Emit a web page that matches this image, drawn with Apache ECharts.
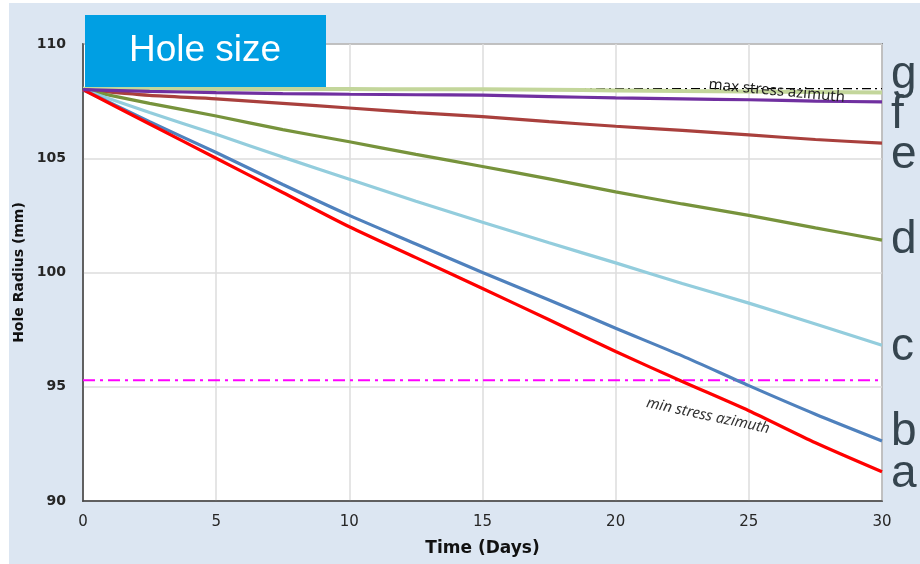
<!DOCTYPE html>
<html>
<head>
<meta charset="utf-8">
<script src="https://cdn.jsdelivr.net/npm/echarts@6/dist/echarts.min.js"></script>
<style>
html,body{margin:0;padding:0;background:#fff;}
#c{width:920px;height:564px;}
</style>
</head>
<body>
<div id="c"></div>
<script>
const days = [0, 2.5, 5, 7.5, 10, 12.5, 15, 17.5, 20, 22.5, 25, 27.5, 30];
const seriesNames = ['a', 'b', 'c', 'd', 'e', 'f', 'g'];
const aVals = [108, 106.5, 105.0, 103.5, 102.0, 100.65, 99.3, 97.93, 96.54, 95.23, 93.95, 92.55, 91.28];
const bVals = [108, 106.6, 105.25, 103.85, 102.5, 101.25, 100.0, 98.8, 97.56, 96.35, 95.05, 93.8, 92.63];
const cVals = [108, 107.0, 106.05, 105.05, 104.08, 103.12, 102.2, 101.3, 100.42, 99.52, 98.66, 97.75, 96.82];
const dVals = [108, 107.4, 106.85, 106.25, 105.72, 105.17, 104.64, 104.1, 103.53, 103.0, 102.5, 101.95, 101.42];
const eVals = [108, 107.75, 107.6, 107.4, 107.2, 107.0, 106.82, 106.6, 106.4, 106.22, 106.02, 105.82, 105.66];
const fVals = [108, 107.93, 107.87, 107.83, 107.8, 107.78, 107.76, 107.7, 107.64, 107.6, 107.56, 107.5, 107.47];
const gVals = [108.04, 108.04, 108.03, 108.03, 108.03, 108.02, 108.02, 108.0, 107.97, 107.94, 107.92, 107.9, 107.88];
const minStressLevel = 95.28;
const maxStressLevel = 108.05;
const yTicks = [90, 95, 100, 105, 110];
const xTicks = [0, 5, 10, 15, 20, 25, 30];

const colors = ['#ff0000', '#4f81bd', '#93cddd', '#77933c', '#a9403d', '#7030a0', '#c3d69b'];
const labelOffsets = [[0, 3], [0, -9], [0, 2], [0, 0], [0, 12], [0, 14], [0, -17]];
const allVals = [aVals, bVals, cVals, dVals, eVals, fVals, gVals];

const chart = echarts.init(document.getElementById('c'));

const series = [];
series.push({
  type: 'line', name: 'max', data: [[xTicks[0], maxStressLevel], [xTicks[xTicks.length - 1], maxStressLevel]],
  symbol: 'none', silent: true, z: 1,
  lineStyle: { color: '#000', width: 1.2, type: [9, 4, 2, 4] }
});
series.push({
  type: 'line', name: 'min', data: [[xTicks[0], minStressLevel], [xTicks[xTicks.length - 1], minStressLevel]],
  symbol: 'none', silent: true, z: 1,
  lineStyle: { color: '#ff00ff', width: 2, type: [12, 5, 3, 5] }
});
const drawOrder = [6, 4, 3, 2, 1, 0, 5];
drawOrder.forEach(function (i) {
  series.push({
    type: 'line',
    name: seriesNames[i],
    data: days.map(function (d, k) { return [d, allVals[i][k]]; }),
    symbol: 'none',
    smooth: 0.25,
    z: 3,
    lineStyle: { color: colors[i], width: i === 6 ? 4 : 3.2 },
    endLabel: {
      show: true,
      formatter: '{a}',
      fontFamily: 'Liberation Sans, Arial, sans-serif',
      fontSize: 46,
      color: '#36454f',
      distance: 9,
      offset: labelOffsets[i]
    }
  });
});

chart.setOption({
  animation: false,
  backgroundColor: 'transparent',
  grid: {
    left: 83, right: 38, top: 44, bottom: 63,
    show: true, backgroundColor: '#ffffff', borderColor: '#404040', borderWidth: 1.5
  },
  xAxis: {
    type: 'value', min: 0, max: 30, interval: 5,
    name: 'Time (Days)', nameLocation: 'middle', nameGap: 39,
    nameTextStyle: { fontFamily: 'DejaVu Sans, sans-serif', fontWeight: 'bold', fontSize: 17, color: '#111' },
    axisLine: { lineStyle: { color: '#404040', width: 1.5 } },
    axisTick: { show: false },
    axisLabel: { fontFamily: 'DejaVu Sans, sans-serif', fontSize: 15, color: '#262626', margin: 14 },
    splitLine: { lineStyle: { color: '#dcdcdc', width: 1.5 } }
  },
  yAxis: {
    type: 'value', min: 90, max: 110, interval: 5,
    name: 'Hole Radius (mm)', nameLocation: 'middle', nameGap: 56,
    nameTextStyle: { fontFamily: 'DejaVu Sans, sans-serif', fontWeight: 'bold', fontSize: 14, color: '#111' },
    axisLine: { show: true, lineStyle: { color: '#404040', width: 1.5 } },
    axisTick: { show: false },
    axisLabel: { fontFamily: 'DejaVu Sans, sans-serif', fontWeight: 'bold', fontSize: 14, color: '#262626', margin: 17 },
    splitLine: { lineStyle: { color: '#dcdcdc', width: 1.5 } }
  },
  series: series
});

const pMin = chart.convertToPixel({ gridIndex: 0 }, [23.47, 93.72]);
const pMax = chart.convertToPixel({ gridIndex: 0 }, [26.05, 107.94]);

chart.setOption({
  graphic: [
    { type: 'rect', z: -100, silent: true, shape: { x: 9, y: 3, width: 911, height: 561 }, style: { fill: '#dce6f2' } },
    { type: 'rect', z: 100, silent: true, shape: { x: 85, y: 15, width: 241, height: 72 }, style: { fill: '#009fe3' } },
    { type: 'text', z: 101, silent: true, x: 205, y: 51,
      style: { text: 'Hole size', fill: '#ffffff', font: '37px "Liberation Sans", Arial, sans-serif', align: 'center', verticalAlign: 'middle' } },
    { type: 'text', z: 101, silent: true, x: pMin[0], y: pMin[1], rotation: -0.21,
      style: { text: 'min stress azimuth', fill: '#333', font: 'italic 15px "Noto Sans", sans-serif', align: 'center', verticalAlign: 'middle' } },
    { type: 'text', z: 101, silent: true, x: pMax[0], y: pMax[1], rotation: -0.095,
      style: { text: 'max stress azimuth', fill: '#222', font: '15px "Noto Sans", sans-serif', align: 'center', verticalAlign: 'middle' } }
  ]
});
</script>
</body>
</html>
